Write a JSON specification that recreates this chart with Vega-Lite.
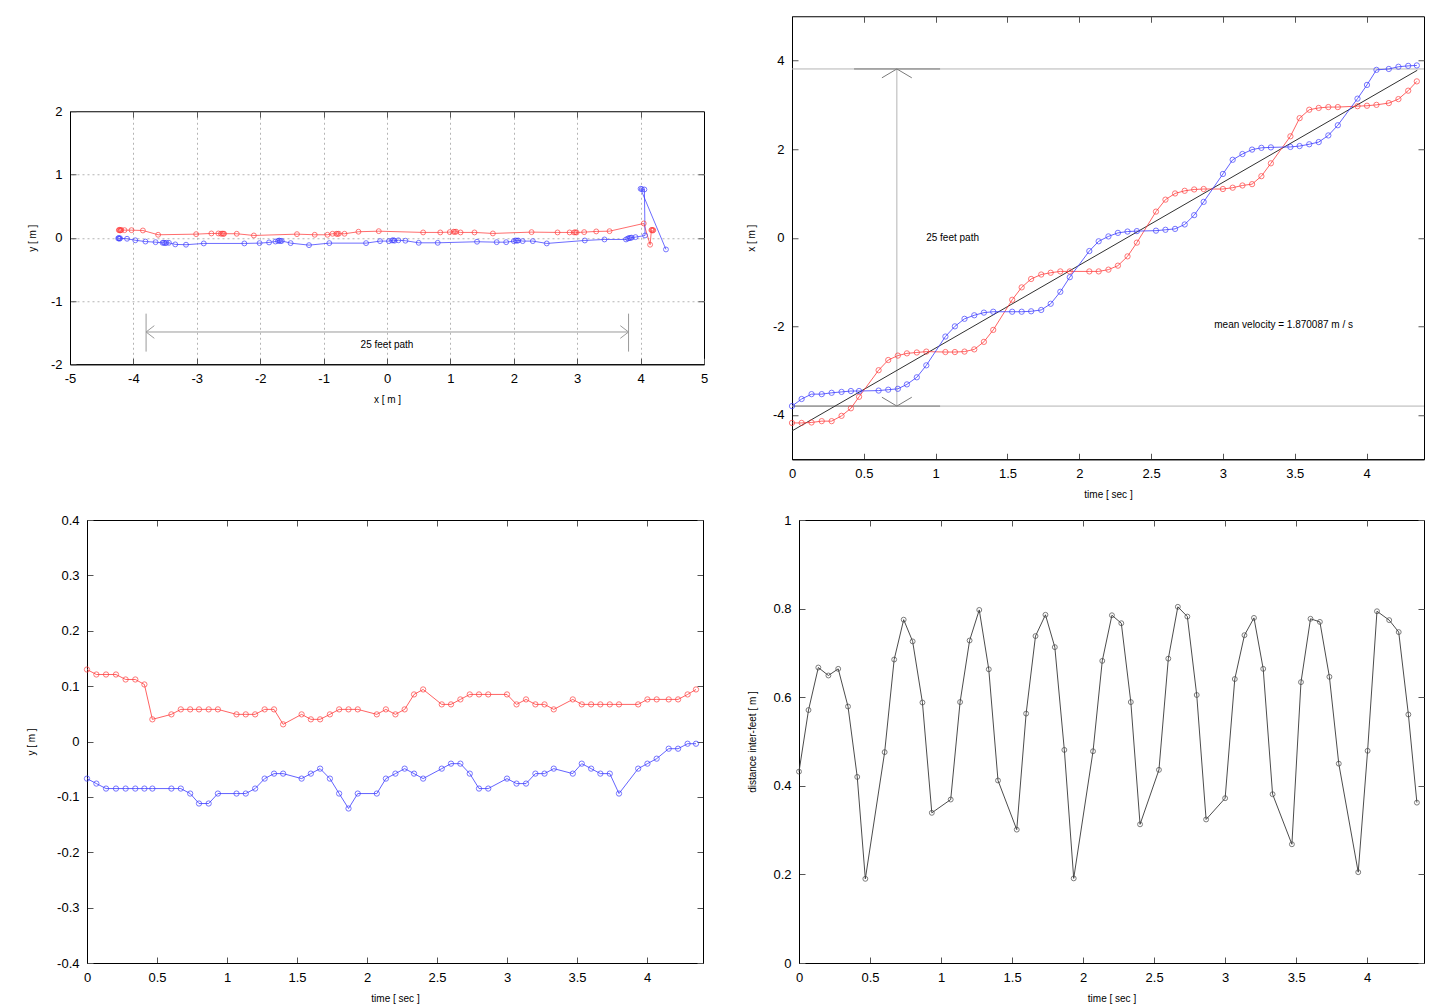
{
  "$schema": "https://vega.github.io/schema/vega-lite/v6.json",
  "padding": {"left": 26, "top": 15, "right": 5, "bottom": 4},
  "config": {
    "background": "#ffffff",
    "view": {"stroke": "#000000", "strokeWidth": 1},
    "font": "Liberation Sans",
    "axis": {
      "labelFont": "Liberation Sans", "labelFontSize": 13, "labelColor": "#000000",
      "titleFont": "Liberation Sans", "titleFontSize": 10, "titleFontWeight": "normal", "titleColor": "#000000",
      "domainColor": "#000000", "domainWidth": 1, "tickColor": "#555555", "tickSize": -6,
      "labelPadding": 14, "titlePadding": 8, "grid": false, "labelFlush": false, "labelOverlap": false
    },
    "line": {"strokeWidth": 1},
    "point": {"filled": false, "shape": "circle", "strokeWidth": 1, "size": 28}
  },
  "datasets": {
    "path": [
      {"i":1,"foot":"a","x":-4.23,"y":0.12},{"i":2,"foot":"a","x":-4.22,"y":0.125},{"i":3,"foot":"a","x":-4.21,"y":0.115},{"i":4,"foot":"a","x":-4.2,"y":0.12},{"i":5,"foot":"a","x":-4.19,"y":0.123},
      {"i":6,"foot":"a","x":-4.14,"y":0.12},{"i":7,"foot":"a","x":-4.03,"y":0.12},{"i":8,"foot":"a","x":-3.85,"y":0.115},{"i":9,"foot":"a","x":-3.61,"y":0.047},{"i":10,"foot":"a","x":-3.01,"y":0.057},
      {"i":11,"foot":"a","x":-2.77,"y":0.068},{"i":12,"foot":"a","x":-2.66,"y":0.068},{"i":13,"foot":"a","x":-2.62,"y":0.063},{"i":14,"foot":"a","x":-2.6,"y":0.066},{"i":15,"foot":"a","x":-2.58,"y":0.062},
      {"i":16,"foot":"a","x":-2.57,"y":0.064},{"i":17,"foot":"a","x":-2.37,"y":0.063},{"i":18,"foot":"a","x":-2.1,"y":0.036},{"i":19,"foot":"a","x":-1.42,"y":0.057},{"i":20,"foot":"a","x":-1.14,"y":0.047},
      {"i":21,"foot":"a","x":-0.94,"y":0.047},{"i":22,"foot":"a","x":-0.86,"y":0.063},{"i":23,"foot":"a","x":-0.8,"y":0.063},{"i":24,"foot":"a","x":-0.78,"y":0.06},{"i":25,"foot":"a","x":-0.76,"y":0.064},
      {"i":26,"foot":"a","x":-0.67,"y":0.063},{"i":27,"foot":"a","x":-0.45,"y":0.095},{"i":28,"foot":"a","x":-0.13,"y":0.104},{"i":29,"foot":"a","x":0.57,"y":0.084},{"i":30,"foot":"a","x":0.84,"y":0.084},
      {"i":31,"foot":"a","x":0.99,"y":0.089},{"i":32,"foot":"a","x":1.05,"y":0.095},{"i":33,"foot":"a","x":1.07,"y":0.092},{"i":34,"foot":"a","x":1.09,"y":0.096},{"i":35,"foot":"a","x":1.16,"y":0.084},
      {"i":36,"foot":"a","x":1.38,"y":0.084},{"i":37,"foot":"a","x":1.67,"y":0.068},{"i":38,"foot":"a","x":2.28,"y":0.089},{"i":39,"foot":"a","x":2.69,"y":0.084},{"i":40,"foot":"a","x":2.88,"y":0.084},
      {"i":41,"foot":"a","x":2.95,"y":0.084},{"i":42,"foot":"a","x":2.97,"y":0.087},{"i":43,"foot":"a","x":2.99,"y":0.083},{"i":44,"foot":"a","x":3.11,"y":0.089},{"i":45,"foot":"a","x":3.3,"y":0.1},
      {"i":46,"foot":"a","x":3.51,"y":0.104},{"i":47,"foot":"a","x":4.05,"y":0.226},{"i":48,"foot":"a","x":4.15,"y":-0.11},{"i":49,"foot":"a","x":4.17,"y":0.12},{"i":50,"foot":"a","x":4.18,"y":0.126},
      {"i":51,"foot":"a","x":4.19,"y":0.114},{"i":52,"foot":"a","x":4.2,"y":0.12},
      {"i":1,"foot":"b","x":-4.24,"y":-0.01},{"i":2,"foot":"b","x":-4.23,"y":-0.004},{"i":3,"foot":"b","x":-4.22,"y":-0.016},{"i":4,"foot":"b","x":-4.21,"y":-0.008},{"i":5,"foot":"b","x":-4.1,"y":-0.016},
      {"i":6,"foot":"b","x":-3.97,"y":-0.04},{"i":7,"foot":"b","x":-3.81,"y":-0.06},{"i":8,"foot":"b","x":-3.65,"y":-0.07},{"i":9,"foot":"b","x":-3.54,"y":-0.08},{"i":10,"foot":"b","x":-3.52,"y":-0.078},
      {"i":11,"foot":"b","x":-3.5,"y":-0.085},{"i":12,"foot":"b","x":-3.48,"y":-0.08},{"i":13,"foot":"b","x":-3.44,"y":-0.08},{"i":14,"foot":"b","x":-3.34,"y":-0.105},{"i":15,"foot":"b","x":-3.17,"y":-0.11},
      {"i":16,"foot":"b","x":-2.89,"y":-0.09},{"i":17,"foot":"b","x":-2.25,"y":-0.09},{"i":18,"foot":"b","x":-2.01,"y":-0.085},{"i":19,"foot":"b","x":-1.86,"y":-0.074},{"i":20,"foot":"b","x":-1.76,"y":-0.06},
      {"i":21,"foot":"b","x":-1.72,"y":-0.05},{"i":22,"foot":"b","x":-1.7,"y":-0.044},{"i":23,"foot":"b","x":-1.68,"y":-0.052},{"i":24,"foot":"b","x":-1.66,"y":-0.05},{"i":25,"foot":"b","x":-1.52,"y":-0.085},
      {"i":26,"foot":"b","x":-1.23,"y":-0.117},{"i":27,"foot":"b","x":-0.91,"y":-0.085},{"i":28,"foot":"b","x":-0.33,"y":-0.085},{"i":29,"foot":"b","x":-0.11,"y":-0.053},{"i":30,"foot":"b","x":0.03,"y":-0.053},
      {"i":31,"foot":"b","x":0.08,"y":-0.043},{"i":32,"foot":"b","x":0.1,"y":-0.039},{"i":33,"foot":"b","x":0.12,"y":-0.046},{"i":34,"foot":"b","x":0.18,"y":-0.04},{"i":35,"foot":"b","x":0.29,"y":-0.047},
      {"i":36,"foot":"b","x":0.5,"y":-0.08},{"i":37,"foot":"b","x":0.8,"y":-0.08},{"i":38,"foot":"b","x":1.42,"y":-0.063},{"i":39,"foot":"b","x":1.73,"y":-0.07},{"i":40,"foot":"b","x":1.88,"y":-0.07},
      {"i":41,"foot":"b","x":2.0,"y":-0.053},{"i":42,"foot":"b","x":2.03,"y":-0.043},{"i":43,"foot":"b","x":2.05,"y":-0.047},{"i":44,"foot":"b","x":2.07,"y":-0.043},{"i":45,"foot":"b","x":2.14,"y":-0.053},
      {"i":46,"foot":"b","x":2.3,"y":-0.053},{"i":47,"foot":"b","x":2.52,"y":-0.09},{"i":48,"foot":"b","x":3.12,"y":-0.043},{"i":49,"foot":"b","x":3.43,"y":-0.027},{"i":50,"foot":"b","x":3.77,"y":-0.027},
      {"i":51,"foot":"b","x":3.8,"y":-0.012},{"i":52,"foot":"b","x":3.82,"y":-0.005},{"i":53,"foot":"b","x":3.84,"y":-0.002},{"i":54,"foot":"b","x":3.86,"y":0.002},{"i":55,"foot":"b","x":3.92,"y":0.01},
      {"i":56,"foot":"b","x":4.07,"y":0.036},{"i":57,"foot":"b","x":4.06,"y":0.763},{"i":58,"foot":"b","x":4.02,"y":0.77},{"i":59,"foot":"b","x":4.0,"y":0.774},{"i":60,"foot":"b","x":4.4,"y":-0.185}
    ],
    "feet": [
      {"t":0,"foot":"a","x":-4.18,"y":0.13},{"t":0.067,"foot":"a","x":-4.18,"y":0.121},{"t":0.136,"foot":"a","x":-4.17,"y":0.121},{"t":0.207,"foot":"a","x":-4.14,"y":0.121},{"t":0.276,"foot":"a","x":-4.14,"y":0.112},
      {"t":0.345,"foot":"a","x":-4.02,"y":0.112},{"t":0.41,"foot":"a","x":-3.85,"y":0.103},{"t":0.467,"foot":"a","x":-3.59,"y":0.04},{"t":0.603,"foot":"a","x":-2.99,"y":0.049},{"t":0.67,"foot":"a","x":-2.76,"y":0.058},
      {"t":0.737,"foot":"a","x":-2.66,"y":0.058},{"t":0.8,"foot":"a","x":-2.61,"y":0.058},{"t":0.869,"foot":"a","x":-2.59,"y":0.058},{"t":0.935,"foot":"a","x":-2.57,"y":0.058},{"t":1.068,"foot":"a","x":-2.58,"y":0.049},
      {"t":1.134,"foot":"a","x":-2.58,"y":0.049},{"t":1.201,"foot":"a","x":-2.57,"y":0.049},{"t":1.269,"foot":"a","x":-2.52,"y":0.058},{"t":1.336,"foot":"a","x":-2.35,"y":0.058},{"t":1.401,"foot":"a","x":-2.08,"y":0.031},
      {"t":1.533,"foot":"a","x":-1.4,"y":0.049},{"t":1.599,"foot":"a","x":-1.12,"y":0.04},{"t":1.665,"foot":"a","x":-0.93,"y":0.04},{"t":1.735,"foot":"a","x":-0.83,"y":0.049},{"t":1.801,"foot":"a","x":-0.79,"y":0.058},
      {"t":1.868,"foot":"a","x":-0.76,"y":0.058},{"t":1.934,"foot":"a","x":-0.76,"y":0.058},{"t":2.07,"foot":"a","x":-0.76,"y":0.049},{"t":2.135,"foot":"a","x":-0.76,"y":0.058},{"t":2.203,"foot":"a","x":-0.72,"y":0.049},
      {"t":2.269,"foot":"a","x":-0.63,"y":0.058},{"t":2.336,"foot":"a","x":-0.42,"y":0.085},{"t":2.401,"foot":"a","x":-0.11,"y":0.094},{"t":2.534,"foot":"a","x":0.59,"y":0.067},{"t":2.6,"foot":"a","x":0.86,"y":0.067},
      {"t":2.667,"foot":"a","x":1.0,"y":0.076},{"t":2.734,"foot":"a","x":1.06,"y":0.085},{"t":2.8,"foot":"a","x":1.09,"y":0.085},{"t":2.866,"foot":"a","x":1.1,"y":0.085},{"t":3.0,"foot":"a","x":1.1,"y":0.085},
      {"t":3.068,"foot":"a","x":1.13,"y":0.067},{"t":3.136,"foot":"a","x":1.18,"y":0.076},{"t":3.203,"foot":"a","x":1.21,"y":0.067},{"t":3.268,"foot":"a","x":1.39,"y":0.067},{"t":3.334,"foot":"a","x":1.68,"y":0.058},
      {"t":3.47,"foot":"a","x":2.29,"y":0.076},{"t":3.534,"foot":"a","x":2.7,"y":0.067},{"t":3.601,"foot":"a","x":2.89,"y":0.067},{"t":3.667,"foot":"a","x":2.93,"y":0.067},{"t":3.734,"foot":"a","x":2.95,"y":0.067},
      {"t":3.8,"foot":"a","x":2.95,"y":0.067},{"t":3.937,"foot":"a","x":2.97,"y":0.067},{"t":4.003,"foot":"a","x":2.98,"y":0.076},{"t":4.069,"foot":"a","x":3.0,"y":0.076},{"t":4.155,"foot":"a","x":3.04,"y":0.076},
      {"t":4.222,"foot":"a","x":3.13,"y":0.076},{"t":4.29,"foot":"a","x":3.32,"y":0.085},{"t":4.35,"foot":"a","x":3.53,"y":0.094},
      {"t":0,"foot":"b","x":-3.8,"y":-0.067},{"t":0.067,"foot":"b","x":-3.64,"y":-0.076},{"t":0.136,"foot":"b","x":-3.53,"y":-0.085},{"t":0.207,"foot":"b","x":-3.53,"y":-0.085},{"t":0.276,"foot":"b","x":-3.5,"y":-0.085},
      {"t":0.345,"foot":"b","x":-3.48,"y":-0.085},{"t":0.41,"foot":"b","x":-3.46,"y":-0.085},{"t":0.467,"foot":"b","x":-3.46,"y":-0.085},{"t":0.603,"foot":"b","x":-3.45,"y":-0.085},{"t":0.67,"foot":"b","x":-3.43,"y":-0.085},
      {"t":0.737,"foot":"b","x":-3.41,"y":-0.094},{"t":0.8,"foot":"b","x":-3.31,"y":-0.112},{"t":0.869,"foot":"b","x":-3.15,"y":-0.112},{"t":0.935,"foot":"b","x":-2.88,"y":-0.094},{"t":1.068,"foot":"b","x":-2.23,"y":-0.094},
      {"t":1.134,"foot":"b","x":-2.0,"y":-0.094},{"t":1.201,"foot":"b","x":-1.83,"y":-0.085},{"t":1.269,"foot":"b","x":-1.75,"y":-0.067},{"t":1.336,"foot":"b","x":-1.69,"y":-0.058},{"t":1.401,"foot":"b","x":-1.67,"y":-0.058},
      {"t":1.533,"foot":"b","x":-1.67,"y":-0.067},{"t":1.599,"foot":"b","x":-1.67,"y":-0.058},{"t":1.665,"foot":"b","x":-1.66,"y":-0.049},{"t":1.735,"foot":"b","x":-1.63,"y":-0.067},{"t":1.801,"foot":"b","x":-1.49,"y":-0.094},
      {"t":1.868,"foot":"b","x":-1.22,"y":-0.121},{"t":1.934,"foot":"b","x":-0.89,"y":-0.094},{"t":2.07,"foot":"b","x":-0.3,"y":-0.094},{"t":2.135,"foot":"b","x":-0.08,"y":-0.067},{"t":2.203,"foot":"b","x":0.03,"y":-0.058},
      {"t":2.269,"foot":"b","x":0.11,"y":-0.049},{"t":2.336,"foot":"b","x":0.14,"y":-0.058},{"t":2.401,"foot":"b","x":0.15,"y":-0.067},{"t":2.534,"foot":"b","x":0.16,"y":-0.049},{"t":2.6,"foot":"b","x":0.18,"y":-0.04},
      {"t":2.667,"foot":"b","x":0.2,"y":-0.04},{"t":2.734,"foot":"b","x":0.3,"y":-0.058},{"t":2.8,"foot":"b","x":0.51,"y":-0.085},{"t":2.866,"foot":"b","x":0.81,"y":-0.085},{"t":3.0,"foot":"b","x":1.44,"y":-0.067},
      {"t":3.068,"foot":"b","x":1.76,"y":-0.076},{"t":3.136,"foot":"b","x":1.89,"y":-0.076},{"t":3.203,"foot":"b","x":1.99,"y":-0.058},{"t":3.268,"foot":"b","x":2.03,"y":-0.058},{"t":3.334,"foot":"b","x":2.04,"y":-0.049},
      {"t":3.47,"foot":"b","x":2.05,"y":-0.058},{"t":3.534,"foot":"b","x":2.07,"y":-0.04},{"t":3.601,"foot":"b","x":2.11,"y":-0.049},{"t":3.667,"foot":"b","x":2.16,"y":-0.058},{"t":3.734,"foot":"b","x":2.31,"y":-0.058},
      {"t":3.8,"foot":"b","x":2.54,"y":-0.094},{"t":3.937,"foot":"b","x":3.14,"y":-0.049},{"t":4.003,"foot":"b","x":3.45,"y":-0.04},{"t":4.069,"foot":"b","x":3.79,"y":-0.031},{"t":4.155,"foot":"b","x":3.81,"y":-0.013},
      {"t":4.222,"foot":"b","x":3.86,"y":-0.013},{"t":4.29,"foot":"b","x":3.88,"y":-0.004},{"t":4.35,"foot":"b","x":3.89,"y":-0.004}
    ],
    "dist": [
      {"t":0,"d":0.432},{"t":0.067,"d":0.571},{"t":0.136,"d":0.667},{"t":0.207,"d":0.649},{"t":0.276,"d":0.664},{"t":0.345,"d":0.579},{"t":0.41,"d":0.42},{"t":0.467,"d":0.19},
      {"t":0.603,"d":0.476},{"t":0.67,"d":0.685},{"t":0.737,"d":0.775},{"t":0.8,"d":0.726},{"t":0.869,"d":0.588},{"t":0.935,"d":0.339},
      {"t":1.068,"d":0.369},{"t":1.134,"d":0.589},{"t":1.201,"d":0.728},{"t":1.269,"d":0.797},{"t":1.336,"d":0.663},{"t":1.401,"d":0.412},
      {"t":1.533,"d":0.301},{"t":1.599,"d":0.563},{"t":1.665,"d":0.738},{"t":1.735,"d":0.786},{"t":1.801,"d":0.713},{"t":1.868,"d":0.481},{"t":1.934,"d":0.191},
      {"t":2.07,"d":0.478},{"t":2.135,"d":0.682},{"t":2.203,"d":0.785},{"t":2.269,"d":0.767},{"t":2.336,"d":0.589},{"t":2.401,"d":0.313},
      {"t":2.534,"d":0.436},{"t":2.6,"d":0.687},{"t":2.667,"d":0.804},{"t":2.734,"d":0.782},{"t":2.8,"d":0.605},{"t":2.866,"d":0.324},
      {"t":3.0,"d":0.372},{"t":3.068,"d":0.641},{"t":3.136,"d":0.74},{"t":3.203,"d":0.779},{"t":3.268,"d":0.664},{"t":3.334,"d":0.381},
      {"t":3.47,"d":0.268},{"t":3.534,"d":0.634},{"t":3.601,"d":0.777},{"t":3.667,"d":0.77},{"t":3.734,"d":0.646},{"t":3.8,"d":0.45},
      {"t":3.937,"d":0.205},{"t":4.003,"d":0.479},{"t":4.069,"d":0.794},{"t":4.155,"d":0.774},{"t":4.222,"d":0.747},{"t":4.29,"d":0.561},{"t":4.35,"d":0.362}
    ],
    "tl_guides": [
      {"x1":-3.8,"y1":-1.49,"x2":3.81,"y2":-1.49},
      {"x1":-3.8,"y1":-1.2,"x2":-3.8,"y2":-1.8},
      {"x1":3.81,"y1":-1.2,"x2":3.81,"y2":-1.8},
      {"x1":-3.8,"y1":-1.49,"x2":-3.67,"y2":-1.39},
      {"x1":-3.8,"y1":-1.49,"x2":-3.67,"y2":-1.59},
      {"x1":3.81,"y1":-1.49,"x2":3.68,"y2":-1.39},
      {"x1":3.81,"y1":-1.49,"x2":3.68,"y2":-1.59}
    ],
    "tr_guides": [
      {"tone":"light","x1":0,"y1":3.81,"x2":4.4,"y2":3.81},
      {"tone":"light","x1":0,"y1":-3.8,"x2":4.4,"y2":-3.8},
      {"tone":"light","x1":0.73,"y1":-3.8,"x2":0.73,"y2":3.81},
      {"tone":"dark","x1":0.432,"y1":3.81,"x2":1.031,"y2":3.81},
      {"tone":"dark","x1":0,"y1":-3.8,"x2":1.031,"y2":-3.8},
      {"tone":"dark","x1":0.73,"y1":3.81,"x2":0.626,"y2":3.61},
      {"tone":"dark","x1":0.73,"y1":3.81,"x2":0.834,"y2":3.61},
      {"tone":"dark","x1":0.73,"y1":-3.8,"x2":0.626,"y2":-3.6},
      {"tone":"dark","x1":0.73,"y1":-3.8,"x2":0.834,"y2":-3.6}
    ],
    "fit": [
      {"t":0,"x":-4.36},{"t":4.353,"x":3.78}
    ]
  },
  "spacing": 13,
  "vconcat": [
    {
      "spacing": 36,
      "center": true,
      "hconcat": [
        {
          "width": 634, "height": 253,
          "resolve": {"axis": {"x": "independent", "y": "independent"}},
          "layer": [
            {
              "data": {"name": "path"},
              "mark": {"type": "line", "opacity": 0.75},
              "encoding": {
                "x": {"field": "x", "type": "quantitative", "scale": {"domain": [-5, 5], "nice": false, "zero": false},
                      "axis": {"title": "x [ m ]", "values": [-5,-4,-3,-2,-1,0,1,2,3,4,5], "format": "~g", "labelExpr": "replace(datum.label, '\u2212', '-')", "minExtent": 22, "maxExtent": 22}},
                "y": {"field": "y", "type": "quantitative", "scale": {"domain": [-2, 2], "nice": false, "zero": false},
                      "axis": {"title": "y [ m ]", "values": [-2,-1,0,1,2], "format": "~g", "labelExpr": "replace(datum.label, '\u2212', '-')", "minExtent": 25, "maxExtent": 25}},
                "color": {"field": "foot", "type": "nominal", "scale": {"domain": ["a", "b"], "range": ["#ff3c3c", "#3c3cff"]}, "legend": null},
                "order": {"field": "i", "type": "quantitative"}
              }
            },
            {
              "data": {"name": "path"},
              "mark": {"type": "point", "size": 24},
              "encoding": {
                "x": {"field": "x", "type": "quantitative", "axis": {"orient": "top", "labels": false, "domain": false, "title": null, "values": [-4,-3,-2,-1,0,1,2,3,4], "grid": true, "gridDash": [2, 3], "gridColor": "#b4b4b4", "minExtent": 0, "maxExtent": 0}},
                "y": {"field": "y", "type": "quantitative", "axis": {"orient": "right", "labels": false, "domain": false, "title": null, "values": [-1,0,1], "grid": true, "gridDash": [2, 3], "gridColor": "#b4b4b4", "minExtent": 0, "maxExtent": 0}},
                "color": {"field": "foot", "type": "nominal", "legend": null}
              }
            },
            {
              "data": {"name": "tl_guides"},
              "mark": {"type": "rule", "color": "#9a9a9a", "strokeWidth": 1},
              "encoding": {
                "x": {"field": "x1", "type": "quantitative", "axis": null},
                "y": {"field": "y1", "type": "quantitative", "axis": null},
                "x2": {"field": "x2"},
                "y2": {"field": "y2"}
              }
            },
            {
              "data": {"values": [{"x": 0, "y": -1.7, "label": "25 feet path"}]},
              "mark": {"type": "text", "font": "Liberation Sans", "fontSize": 10, "align": "center", "baseline": "middle", "color": "#000000"},
              "encoding": {
                "x": {"field": "x", "type": "quantitative", "axis": null},
                "y": {"field": "y", "type": "quantitative", "axis": null},
                "text": {"field": "label"}
              }
            }
          ]
        },
        {
          "width": 632, "height": 443,
          "resolve": {"axis": {"x": "independent", "y": "independent"}},
          "layer": [
            {
              "data": {"name": "tr_guides"},
              "transform": [{"filter": "datum.tone == 'light'"}],
              "mark": {"type": "rule", "color": "#b4b4b4", "strokeWidth": 1},
              "encoding": {
                "x": {"field": "x1", "type": "quantitative", "scale": {"domain": [0, 4.4], "nice": false, "zero": false},
                      "axis": {"title": "time [ sec ]", "values": [0,0.5,1,1.5,2,2.5,3,3.5,4], "format": "~g", "minExtent": 22, "maxExtent": 22}},
                "y": {"field": "y1", "type": "quantitative", "scale": {"domain": [-5, 5], "nice": false, "zero": false},
                      "axis": {"title": "x [ m ]", "values": [-4,-2,0,2,4], "format": "~g", "labelExpr": "replace(datum.label, '\u2212', '-')", "minExtent": 28, "maxExtent": 28}},
                "x2": {"field": "x2"},
                "y2": {"field": "y2"}
              }
            },
            {
              "data": {"name": "tr_guides"},
              "transform": [{"filter": "datum.tone == 'dark'"}],
              "mark": {"type": "rule", "color": "#7a7a7a", "strokeWidth": 1},
              "encoding": {
                "x": {"field": "x1", "type": "quantitative", "axis": null},
                "y": {"field": "y1", "type": "quantitative", "axis": null},
                "x2": {"field": "x2"},
                "y2": {"field": "y2"}
              }
            },
            {
              "data": {"name": "fit"},
              "mark": {"type": "line", "color": "#303030", "strokeWidth": 1},
              "encoding": {
                "x": {"field": "t", "type": "quantitative", "axis": null},
                "y": {"field": "x", "type": "quantitative", "axis": null}
              }
            },
            {
              "data": {"name": "feet"},
              "mark": {"type": "line", "opacity": 0.8},
              "encoding": {
                "x": {"field": "t", "type": "quantitative", "axis": null},
                "y": {"field": "x", "type": "quantitative", "axis": null},
                "color": {"field": "foot", "type": "nominal", "legend": null}
              }
            },
            {
              "data": {"name": "feet"},
              "mark": {"type": "point"},
              "encoding": {
                "x": {"field": "t", "type": "quantitative", "axis": {"orient": "top", "labels": false, "domain": false, "title": null, "values": [0,0.5,1,1.5,2,2.5,3,3.5,4], "minExtent": 0, "maxExtent": 0}},
                "y": {"field": "x", "type": "quantitative", "axis": {"orient": "right", "labels": false, "domain": false, "title": null, "values": [-4,-2,0,2,4], "minExtent": 0, "maxExtent": 0}},
                "color": {"field": "foot", "type": "nominal", "legend": null}
              }
            },
            {
              "data": {"values": [
                {"t": 0.934, "x": 0, "label": "25 feet path"},
                {"t": 2.94, "x": -1.98, "label": "mean velocity = 1.870087 m / s"}
              ]},
              "mark": {"type": "text", "font": "Liberation Sans", "fontSize": 10, "align": "left", "baseline": "middle", "color": "#000000"},
              "encoding": {
                "x": {"field": "t", "type": "quantitative", "axis": null},
                "y": {"field": "x", "type": "quantitative", "axis": null},
                "text": {"field": "label"}
              }
            }
          ]
        }
      ]
    },
    {
      "spacing": 42,
      "hconcat": [
        {
          "width": 633, "height": 443,
          "view": {"stroke": null},
          "resolve": {"axis": {"x": "independent", "y": "independent"}},
          "layer": [
            {
              "data": {"name": "feet"},
              "mark": {"type": "line", "opacity": 0.8},
              "encoding": {
                "x": {"field": "t", "type": "quantitative", "scale": {"domain": [0, 4.4], "nice": false, "zero": false, "range": [17, 633]},
                      "axis": {"title": "time [ sec ]", "values": [0,0.5,1,1.5,2,2.5,3,3.5,4], "format": "~g", "minExtent": 22, "maxExtent": 22}},
                "y": {"field": "y", "type": "quantitative", "scale": {"domain": [-0.4, 0.4], "nice": false, "zero": false},
                      "axis": {"title": "y [ m ]", "offset": -17, "values": [-0.4,-0.3,-0.2,-0.1,0,0.1,0.2,0.3,0.4], "format": "~g", "labelExpr": "replace(datum.label, '\u2212', '-')", "minExtent": 43, "maxExtent": 43}},
                "color": {"field": "foot", "type": "nominal", "legend": null}
              }
            },
            {
              "data": {"name": "feet"},
              "mark": {"type": "point"},
              "encoding": {
                "x": {"field": "t", "type": "quantitative", "axis": {"orient": "top", "labels": false, "domain": true, "title": null, "values": [0,0.5,1,1.5,2,2.5,3,3.5,4], "minExtent": 0, "maxExtent": 0}},
                "y": {"field": "y", "type": "quantitative", "axis": {"orient": "right", "labels": false, "domain": true, "title": null, "values": [-0.4,-0.3,-0.2,-0.1,0,0.1,0.2,0.3,0.4], "minExtent": 0, "maxExtent": 0}},
                "color": {"field": "foot", "type": "nominal", "legend": null}
              }
            }
          ]
        },
        {
          "width": 625, "height": 443,
          "resolve": {"axis": {"x": "independent", "y": "independent"}},
          "layer": [
            {
              "data": {"name": "dist"},
              "mark": {"type": "line", "color": "#383838", "strokeWidth": 0.9},
              "encoding": {
                "x": {"field": "t", "type": "quantitative", "scale": {"domain": [0, 4.4], "nice": false, "zero": false},
                      "axis": {"title": "time [ sec ]", "values": [0,0.5,1,1.5,2,2.5,3,3.5,4], "format": "~g", "minExtent": 22, "maxExtent": 22}},
                "y": {"field": "d", "type": "quantitative", "scale": {"domain": [0, 1], "nice": false, "zero": false},
                      "axis": {"title": "distance inter-feet [ m ]", "values": [0,0.2,0.4,0.6,0.8,1], "format": "~g", "minExtent": 34, "maxExtent": 34}}
              }
            },
            {
              "data": {"name": "dist"},
              "mark": {"type": "point", "color": "#444444", "size": 24},
              "encoding": {
                "x": {"field": "t", "type": "quantitative", "axis": {"orient": "top", "labels": false, "domain": false, "title": null, "values": [0,0.5,1,1.5,2,2.5,3,3.5,4], "minExtent": 0, "maxExtent": 0}},
                "y": {"field": "d", "type": "quantitative", "axis": {"orient": "right", "labels": false, "domain": false, "title": null, "values": [0,0.2,0.4,0.6,0.8,1], "minExtent": 0, "maxExtent": 0}}
              }
            }
          ]
        }
      ]
    }
  ]
}
